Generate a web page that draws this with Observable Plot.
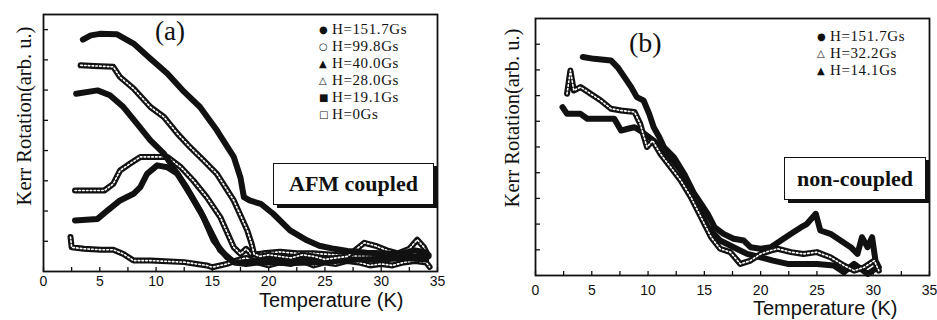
<!DOCTYPE html>
<html>
<head>
<meta charset="utf-8">
<script src="https://cdn.jsdelivr.net/npm/d3@7"></script>
<script src="https://cdn.jsdelivr.net/npm/@observablehq/plot@0.6"></script>
<style>
  html, body { margin: 0; padding: 0; background: #fff; }
  #wrap { position: relative; width: 937px; height: 320px; overflow: hidden; background: #fff; }
  .panel { position: absolute; top: 0; }
  .ov { position: absolute; white-space: nowrap; color: #111; }
  .serif { font-family: "Liberation Serif", "Times New Roman", serif; }
  .sans { font-family: "Liberation Sans", Arial, sans-serif; }
  .ylab { transform: translate(-50%, -50%) rotate(-90deg); font-size: 20.5px; }
  .leg { font-size: 15px; line-height: 17px; letter-spacing: 0.6px; }
  .leg div { height: 17px; }
  .leg span.m { display: inline-block; width: 13px; letter-spacing: 0; font-family: "DejaVu Sans", sans-serif; font-size: 10px; vertical-align: 1px; }
  .box { border: 1.3px solid #111; box-shadow: 4px 3px 0 #111; background: #fff; font-weight: bold; font-size: 22px; display: flex; align-items: center; justify-content: center; }
</style>
</head>
<body>
<div id="wrap">
  <div id="pa" class="panel" style="left:0"></div>
  <div id="pb" class="panel" style="left:468px"></div>

  <div class="ov serif ylab" style="left:24px;top:116px">Kerr Rotation(arb. u.)</div>
  <div class="ov serif ylab" style="left:512px;top:118px">Kerr Rotation(arb. u.)</div>

  <div class="ov sans" style="left:259px;top:289px;font-size:20px">Temperature (K)</div>
  <div class="ov sans" style="left:753px;top:297px;font-size:20px">Temperature (K)</div>

  <div class="ov serif" style="left:155px;top:16px;font-size:27px">(a)</div>
  <div class="ov serif" style="left:629px;top:27px;font-size:28px">(b)</div>

  <div class="ov serif leg" id="lega" style="left:319px;top:21px"></div>
  <div class="ov serif leg" id="legb" style="left:817px;top:28px"></div>

  <div class="ov serif box" style="left:273px;top:163px;width:159px;height:40px">AFM coupled</div>
  <div class="ov serif box" style="left:784px;top:157px;width:140px;height:41px">non-coupled</div>
</div>
<script>
// ---------- Data (Temperature K, Kerr rotation arb. u.) ----------
// Panel (a): AFM coupled
const a151T = [3.5, 4.2, 5.0, 6.5, 8.0, 9.5, 11.0, 12.5, 13.9, 15.4, 16.9, 17.5, 17.8, 18.3, 19.3, 20.4, 21.9, 23.4, 24.5, 25.8, 27.0, 28.7, 30.0, 31.7, 33.0, 33.8, 34.2];
const a151V = [7.67, 7.81, 7.86, 7.85, 7.54, 7.04, 6.55, 5.94, 5.44, 4.67, 3.79, 3.1, 2.46, 2.35, 2.24, 1.91, 1.36, 1.03, 0.85, 0.75, 0.68, 0.62, 0.60, 0.58, 0.70, 0.65, 0.55];

const a99T = [3.3, 4.5, 6.2, 6.8, 8.0, 9.5, 10.7, 11.9, 13.0, 14.2, 15.4, 16.9, 18.1, 18.5, 18.7, 19.2, 20.0, 21.0, 22.0, 23.0, 24.0, 25.0, 26.0, 27.0, 28.5, 29.5, 30.5, 31.5, 32.5, 33.2, 33.8, 34.2];
const a99V = [6.82, 6.80, 6.77, 6.43, 6.05, 5.44, 5.11, 4.56, 4.12, 3.68, 3.23, 2.35, 1.36, 0.9, 0.58, 0.50, 0.55, 0.50, 0.45, 0.55, 0.50, 0.40, 0.45, 0.50, 0.95, 0.85, 0.70, 0.60, 0.75, 1.05, 0.80, 0.50];

const a40T = [2.9, 4.8, 5.9, 7.1, 8.3, 9.5, 10.7, 11.9, 13.0, 14.2, 15.1, 16.3, 17.0, 18.0, 19.0, 20.0, 22.0, 24.0, 26.0, 28.0, 30.0, 32.0, 34.0];
const a40V = [5.88, 5.99, 5.83, 5.44, 4.89, 4.34, 3.90, 3.23, 2.57, 1.80, 1.03, 0.47, 0.30, 0.25, 0.30, 0.30, 0.28, 0.30, 0.35, 0.40, 0.40, 0.45, 0.40];

const a28T = [2.8, 5.4, 6.2, 6.8, 7.7, 8.6, 9.8, 11.0, 12.2, 13.3, 14.5, 15.7, 16.9, 17.5, 18.0, 18.5, 19.5, 21.0, 22.5, 24.0, 26.0, 28.0, 30.0, 32.0, 34.0];
const a28V = [2.68, 2.68, 2.90, 3.34, 3.57, 3.79, 3.79, 3.79, 3.45, 3.01, 2.46, 1.80, 0.80, 0.58, 0.75, 0.55, 0.60, 0.65, 0.60, 0.60, 0.55, 0.50, 0.55, 0.50, 0.45];

const a19T = [2.8, 4.8, 5.7, 6.8, 8.0, 8.6, 9.2, 10.1, 11.0, 11.9, 12.7, 13.9, 14.8, 15.7, 16.9, 18.0, 19.0, 20.5, 22.0, 24.0, 26.0, 28.0, 30.0, 32.0, 34.0];
const a19V = [1.69, 1.74, 2.02, 2.35, 2.57, 2.79, 3.23, 3.51, 3.45, 3.23, 2.79, 2.02, 1.36, 0.70, 0.31, 0.30, 0.35, 0.35, 0.35, 0.40, 0.45, 0.50, 0.50, 0.45, 0.55];

const a0T = [2.4, 2.5, 3.6, 5.1, 6.2, 7.1, 8.0, 9.5, 12.5, 14.5, 15.0, 16.3, 17.0, 18.0, 19.0, 20.0, 21.0, 22.0, 23.0, 24.0, 25.0, 26.0, 27.0, 28.0, 29.0, 30.0, 31.0, 32.0, 33.0, 34.0, 34.3];
const a0V = [1.14, 0.80, 0.75, 0.72, 0.72, 0.58, 0.36, 0.36, 0.31, 0.20, 0.14, 0.25, 0.35, 0.45, 0.30, 0.20, 0.30, 0.25, 0.35, 0.20, 0.30, 0.25, 0.35, 0.30, 0.20, 0.25, 0.20, 0.30, 0.35, 0.30, 0.15];

// Panel (b): non-coupled
const b151T = [4.2, 5.2, 6.7, 7.3, 7.9, 8.5, 9.0, 9.6, 10.1, 10.5, 11.0, 11.4, 12.3, 13.2, 14.1, 14.7, 15.3, 15.9, 16.7, 17.6, 18.5, 19.1, 20.0, 20.9, 21.8, 22.7, 23.6, 24.1, 24.9, 25.3, 26.2, 27.1, 28.0, 28.6, 29.0, 29.5, 29.9, 30.2, 30.5];
const b151V = [8.50, 8.43, 8.37, 8.10, 7.72, 7.33, 6.94, 6.81, 6.29, 5.77, 5.38, 5.00, 4.60, 3.96, 3.18, 2.79, 2.40, 1.88, 1.62, 1.43, 1.36, 1.10, 1.04, 1.10, 1.36, 1.62, 1.88, 2.00, 2.40, 1.75, 1.62, 1.36, 1.10, 0.84, 1.49, 1.10, 1.49, 0.58, 0.32];

const b32T = [2.8, 3.1, 3.4, 4.0, 4.9, 5.8, 6.7, 7.6, 8.8, 9.3, 9.9, 10.4, 11.1, 12.0, 12.9, 13.8, 14.7, 15.6, 16.4, 17.3, 18.2, 19.1, 20.0, 20.9, 21.5, 22.7, 23.8, 25.0, 26.2, 27.4, 28.3, 29.2, 30.1, 30.5];
const b32V = [7.07, 7.98, 7.20, 7.33, 7.07, 6.81, 6.49, 6.42, 6.36, 5.90, 5.00, 5.25, 4.73, 4.22, 3.70, 3.05, 2.27, 1.49, 1.04, 0.91, 0.45, 0.58, 0.84, 0.97, 1.04, 0.91, 0.84, 0.91, 0.71, 0.39, 0.19, 0.32, 0.58, 0.19];

const b14T = [2.4, 2.8, 4.0, 4.6, 5.8, 7.0, 7.6, 8.2, 8.8, 9.3, 10.5, 11.7, 12.9, 14.1, 15.3, 16.4, 17.6, 18.8, 20.0, 21.1, 22.4, 23.6, 25.0, 26.5, 27.4, 28.3, 29.5, 30.4];
const b14V = [6.55, 6.29, 6.29, 6.10, 6.10, 6.10, 5.64, 5.71, 5.77, 5.64, 5.25, 4.73, 4.09, 3.05, 1.88, 1.36, 1.10, 0.84, 0.71, 0.58, 0.45, 0.45, 0.45, 0.39, 0.13, 0.45, 0.06, 0.32];

// Legends, ticks
const legendA = ["H=151.7Gs", "H=99.8Gs", "H=40.0Gs", "H=28.0Gs", "H=19.1Gs", "H=0Gs"];
const legendASymbols = ["●", "○", "▲", "△", "■", "□"];
const legendB = ["H=151.7Gs", "H=32.2Gs", "H=14.1Gs"];
const legendBSymbols = ["●", "△", "▲"];
const xTickLabels = [0, 5, 10, 15, 20, 25, 30, 35];
const xMinorTicks = [0, 2.5, 5, 7.5, 10, 12.5, 15, 17.5, 20, 22.5, 25, 27.5, 30, 32.5, 35];
const yTicksA = [1, 2, 3, 4, 5, 6, 7, 8];
const yTicksB = [1, 2, 3, 4, 5, 6, 7, 8, 9];

// ---------- Build ----------
const zip = (T, V) => T.map((t, i) => ({t, v: V[i]}));

function seriesMarks(T, V, open) {
  const d = zip(T, V);
  const m = [Plot.line(d, {x: "t", y: "v", stroke: "#111", strokeWidth: 6, strokeLinejoin: "round", strokeLinecap: "round"})];
  if (open) m.push(Plot.line(d, {x: "t", y: "v", stroke: "#fff", strokeWidth: 1.6, strokeDasharray: "1.6,2.2", strokeLinejoin: "round"}));
  return m;
}

function panel({width, height, ml, mr, mt, mb, yDomain, yTicks, series, labelPad}) {
  const fw = width - ml - mr, fh = height - mt - mb;
  return Plot.plot({
    width, height,
    marginLeft: ml, marginRight: mr, marginTop: mt, marginBottom: mb,
    style: {fontFamily: "Liberation Sans, Arial, sans-serif", background: "transparent"},
    x: {domain: [0, 35], label: null},
    y: {domain: yDomain, axis: null, label: null},
    marks: [
      ...series.flatMap(s => seriesMarks(s[0], s[1], s[2])),
      Plot.tickX(xMinorTicks, {x: d => d, insetTop: fh - 4, stroke: "#111", strokeWidth: 1.3}),
      Plot.tickY(yTicks, {y: d => d, insetRight: fw - 5, stroke: "#111", strokeWidth: 1.3}),
      Plot.axisX({ticks: xTickLabels, tickSize: 0, tickPadding: labelPad, fontSize: 14, tickFormat: d => String(d), fill: "#111", label: null}),
      Plot.frame({stroke: "#111", strokeWidth: 1.8})
    ]
  });
}

document.getElementById("pa").append(panel({
  width: 468, height: 320, ml: 43, mr: 31, mt: 14, mb: 49,
  yDomain: [0, 8.5], yTicks: yTicksA, labelPad: 5,
  series: [
    [a0T, a0V, true],
    [a19T, a19V, false],
    [a28T, a28V, true],
    [a40T, a40V, false],
    [a99T, a99V, true],
    [a151T, a151V, false]
  ]
}));

document.getElementById("pb").append(panel({
  width: 469, height: 320, ml: 67, mr: 8, mt: 18, mb: 45,
  yDomain: [0, 10], yTicks: yTicksB, labelPad: 10,
  series: [
    [b151T, b151V, false],
    [b14T, b14V, false],
    [b32T, b32V, true]
  ]
}));

function legend(el, labels, syms) {
  el.innerHTML = labels.map((l, i) => `<div><span class="m">${syms[i]}</span>${l}</div>`).join("");
}
legend(document.getElementById("lega"), legendA, legendASymbols);
legend(document.getElementById("legb"), legendB, legendBSymbols);
</script>
</body>
</html>
